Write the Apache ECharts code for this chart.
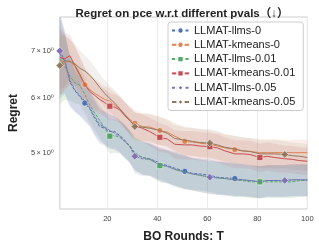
<!DOCTYPE html>
<html>
<head>
<meta charset="utf-8">
<script src="https://cdn.jsdelivr.net/npm/echarts@6/dist/echarts.min.js"></script>
<style>html,body{margin:0;padding:0;background:#fff}#c{width:319px;height:248px}</style>
</head>
<body>
<div id="c"></div>
<script>
// BO round (x) sample points
const Ts = [1,3,5,7,9,11,13,15,17,19,21,23,25,27,29,31,34,37,41,44,47,51,54,57,61,64,67,71,74,77,81,84,87,91,94,97,100];
// mean regret per series
const llms0 = [6.93,6.76,6.32,6.14,6.02,5.89,5.78,5.60,5.45,5.42,5.36,5.36,5.29,5.21,5.11,4.98,4.92,4.90,4.83,4.79,4.75,4.70,4.67,4.66,4.64,4.61,4.60,4.59,4.57,4.56,4.54,4.56,4.56,4.56,4.57,4.57,4.57];
const kmeans0 = [6.78,6.74,6.78,6.65,6.44,6.26,6.16,6.08,6.02,5.96,5.93,5.85,5.78,5.67,5.58,5.51,5.45,5.44,5.38,5.35,5.28,5.19,5.18,5.16,5.14,5.11,5.08,5.05,5.03,5.02,5.00,5.00,5.00,5.00,5.00,5.00,5.00];
const llms001 = [6.82,6.65,6.44,6.30,6.25,6.06,5.85,5.70,5.56,5.42,5.28,5.29,5.26,5.19,5.11,5.00,4.92,4.89,4.79,4.78,4.73,4.69,4.66,4.64,4.61,4.60,4.59,4.57,4.56,4.54,4.54,4.54,4.54,4.54,4.54,4.56,4.56];
const kmeans001 = [6.85,6.82,6.89,6.67,6.48,6.26,6.12,6.04,5.96,5.90,5.83,5.81,5.76,5.65,5.56,5.47,5.42,5.36,5.26,5.23,5.14,5.13,5.13,5.11,5.10,5.08,5.03,4.98,4.98,4.97,4.92,4.94,4.92,4.90,4.89,4.87,4.86];
const llms005 = [7.00,6.78,6.36,6.16,6.04,5.93,5.80,5.63,5.49,5.44,5.38,5.33,5.28,5.19,5.10,4.94,4.90,4.89,4.81,4.78,4.73,4.69,4.66,4.64,4.61,4.60,4.59,4.57,4.57,4.56,4.54,4.56,4.56,4.56,4.57,4.57,4.57];
const kmeans005 = [6.67,6.78,6.76,6.71,6.61,6.55,6.46,6.34,6.20,6.08,5.98,5.89,5.78,5.67,5.56,5.45,5.44,5.42,5.38,5.33,5.24,5.21,5.19,5.17,5.16,5.13,5.09,5.06,5.03,5.02,4.98,4.98,4.98,4.97,4.95,4.94,4.92];
// confidence band half widths
const llmsErr = [0.95,0.70,0.50,0.42,0.38,0.35,0.33,0.32,0.30,0.30,0.30,0.29,0.28,0.28,0.27,0.27,0.27,0.26,0.26,0.26,0.26,0.26,0.25,0.25,0.25,0.25,0.25,0.25,0.24,0.24,0.24,0.24,0.24,0.24,0.24,0.24,0.24];
const kmeansErr = [0.70,0.60,0.50,0.45,0.40,0.35,0.32,0.30,0.28,0.27,0.26,0.25,0.25,0.25,0.25,0.25,0.25,0.25,0.25,0.24,0.24,0.24,0.24,0.24,0.24,0.24,0.23,0.23,0.23,0.23,0.23,0.23,0.23,0.22,0.22,0.22,0.22];
const seriesNames = ['LLMAT-llms-0','LLMAT-kmeans-0','LLMAT-llms-0.01','LLMAT-kmeans-0.01','LLMAT-llms-0.05','LLMAT-kmeans-0.05'];
const xTicks = [20,40,60,80,100];
const yTicks = [5,6,7];

const values = [llms0, kmeans0, llms001, kmeans001, llms005, kmeans005];
const errs = [llmsErr, kmeansErr, llmsErr, kmeansErr, llmsErr, kmeansErr];
const colors = ['#4C72B0','#DD8452','#55A868','#C44E52','#8172B3','#937860'];
const bandAlpha = [0.15,0.12,0.15,0.12,0.15,0.12];
const symbols = ['circle','circle','rect','rect','diamond','diamond'];
const symSizes = [6,6,6,6,7.5,7.5];
const dashed = [true,false,true,false,true,false];
const markerAt = [[11,51,71],[11,31,41,51,71],[21,41,81],[21,41,61,81],[1,31,61,91],[1,31,61,91]];

function hexA(h,a){const n=parseInt(h.slice(1),16);return `rgba(${n>>16},${(n>>8)&255},${n&255},${a})`;}

const series = [];
values.forEach((vals,i)=>{
  const bandData = vals.map((v,k)=>[Ts[k], v - errs[i][k], v + errs[i][k]]);
  series.push({
    type:'custom', name:'band'+i, silent:true, z:1,
    data: bandData,
    encode:{x:0, y:[1,2]},
    clip:true,
    renderItem:(params, api)=>{
      if (params.dataIndex !== 0) return null;
      const upper = bandData.map(d=>api.coord([d[0], d[2]]));
      const lower = bandData.map(d=>api.coord([d[0], d[1]])).reverse();
      return {type:'polygon', shape:{points: upper.concat(lower)},
        style:{fill:hexA(colors[i],bandAlpha[i]), stroke:null}};
    }
  });
});
values.forEach((vals,i)=>{
  series.push({
    type:'line', name:seriesNames[i], z:3+i,
    data: vals.map((v,k)=>[Ts[k], v]),
    symbol: symbols[i],
    showAllSymbol: true,
    symbolSize: (val)=> markerAt[i].includes(val[0]) ? symSizes[i] : 0,
    itemStyle:{color:colors[i], borderColor:'#fff', borderWidth:0.5},
    lineStyle:{color:colors[i], width:1, type: dashed[i] ? [3,1.5] : 'solid'},
    emphasis:{disabled:true}
  });
});

const FONT = 'Liberation Sans, Arial, DejaVu Sans, Noto Sans CJK SC, sans-serif';
const chart = echarts.init(document.getElementById('c'), null, {renderer:'canvas'});
chart.setOption({
  animation:false,
  backgroundColor:'#fff',
  textStyle:{fontFamily:FONT},
  title:{text:'Regret on pce w.r.t different pvals（↓）', left:177, textAlign:'center', top:3,
    textStyle:{fontSize:11.5, fontWeight:'bold', color:'#222', fontFamily:FONT}},
  grid:{left:49.5, right:11.7, top:17, bottom:33, show:true, borderColor:'#cccccc', borderWidth:1, backgroundColor:'transparent'},
  legend:{
    data: seriesNames, orient:'vertical', left:168, top:22,
    itemWidth:17, itemHeight:8, itemGap:3.3,
    padding:[3,8,3,3],
    backgroundColor:'rgba(255,255,255,0.8)', borderColor:'#cccccc', borderWidth:1, borderRadius:3,
    textStyle:{fontSize:11, color:'#222', lineHeight:11, padding:[0,0,0,0]}
  },
  xAxis:{
    type:'value', min:1, max:100,
    name:'BO Rounds: T', nameLocation:'middle', nameGap:22,
    nameTextStyle:{fontSize:12, fontWeight:'bold', color:'#222'},
    axisLine:{show:false}, axisTick:{show:false, customValues:xTicks},
    axisLabel:{customValues:xTicks, fontSize:7.5, color:'#444', margin:6},
    splitLine:{show:true, lineStyle:{color:'#ebebeb', width:1}}
  },
  yAxis:{
    type:'log', logBase:10, min:4.15, max:7.83,
    name:'Regret', nameLocation:'middle', nameGap:37,
    nameTextStyle:{fontSize:12, fontWeight:'bold', color:'#222'},
    axisLine:{show:false}, axisTick:{show:false, customValues:yTicks},
    splitLine:{show:false}, minorTick:{show:false}, minorSplitLine:{show:false},
    axisLabel:{customValues:yTicks, margin:6, fontSize:7.5, color:'#444',
      formatter:(v)=>Math.round(v)+'\u2009×\u200910⁰'}
  },
  series: series
});
</script>
</body>
</html>
